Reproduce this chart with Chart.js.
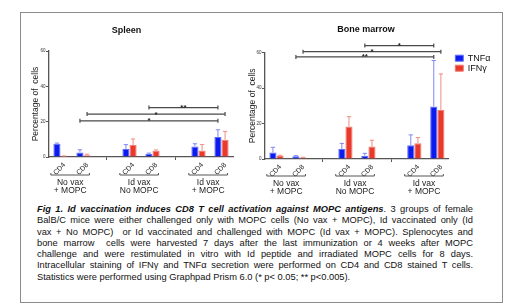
<!DOCTYPE html>
<html>
<head>
<meta charset="utf-8">
<script src="https://cdn.jsdelivr.net/npm/chart.js@4.4.1/dist/chart.umd.min.js"></script>
<style>
  body { margin: 0; background: #fff; font-family: "Liberation Sans", Arial, sans-serif; }
  #frame { position: absolute; left: 20px; top: 12px; width: 483px; height: 291px; box-sizing: border-box; border: 1.5px solid #8c8c8c; }
  canvas { position: absolute; }
  #spleen { left: 20px; top: 12px; }
  #marrow { left: 237px; top: 12px; }
  #caption { position: absolute; left: 37px; top: 204px; width: 436px; font-size: 9.3px; line-height: 11.3px; color: #111; }
  #caption div { white-space: nowrap; text-align: justify; text-align-last: justify; }
  #caption div.last { text-align-last: left; }
</style>
</head>
<body>
<div id="frame"></div>
<canvas id="spleen" width="225" height="190"></canvas>
<canvas id="marrow" width="266" height="190"></canvas>
<div id="caption">
  <div><b><i>Fig 1. Id vaccination induces CD8 T cell activation against MOPC antigens</i></b>. 3 groups of female</div>
  <div>BalB/C mice were either challenged only with MOPC cells (No vax + MOPC), Id vaccinated only (Id</div>
  <div>vax + No MOPC)&nbsp; or Id vaccinated and challenged with MOPC (Id vax + MOPC). Splenocytes and</div>
  <div>bone marrow&nbsp; cells were harvested 7 days after the last immunization or 4 weeks after MOPC</div>
  <div>challenge and were restimulated in vitro with Id peptide and irradiated MOPC cells for 8 days.</div>
  <div>Intracellular staining of IFN&gamma; and TNF&alpha; secretion were performed on CD4 and CD8 stained T cells.</div>
  <div class="last">Statistics were performed using Graphpad Prism 6.0 (* p&lt; 0.05; ** p&lt;0.005).</div>
</div>
<script>
// categories: empty slots keep the gap between the three groups
var categories = ['CD4', 'CD8', '', 'CD4', 'CD8', '', 'CD4', 'CD8'];
var groupNames = [['No vax', '+ MOPC'], ['Id vax', 'No MOPC'], ['Id vax', '+ MOPC']];
var groupStart = [0, 3, 6];
var seriesNames = ['TNF\u03b1', 'IFN\u03b3'];
var yTicks = [0, 20, 40, 60];

var spleenTnf = [7.5, 2.6, null, 4.5, 1.9, null, 6.0, 11.3];
var spleenTnfErr = [0.4, 1.5, null, 2.5, 0.3, null, 1.5, 4.1];
var spleenIfn = [0.5, 1.0, null, 6.8, 3.6, null, 3.7, 9.8];
var spleenIfnErr = [0.1, 0.6, null, 3.4, 0.4, null, 3.3, 4.7];

var marrowTnf = [3.6, 1.5, null, 5.6, 1.9, null, 7.8, 29.7];
var marrowTnfErr = [3.0, 0.4, null, 3.2, 1.3, null, 5.8, 25.9];
var marrowIfn = [2.0, 0.9, null, 18.3, 7.0, null, 8.9, 27.7];
var marrowIfnErr = [0.1, 0.1, null, 5.6, 3.6, null, 3.2, 20.3];

// significance bars: [from category, to category, series, height, label]
var spleenSig = [[4, 7, 0, 28, '**'], [1, 7, 1, 24.3, '*'], [1, 7, 0, 20.5, '*']];
var marrowSig = [[4, 7, 0, 64, '*'], [1, 7, 1, 60.6, '*'], [1, 7, 0, 57.6, '**']];

var FONT = '"Liberation Sans", Arial, sans-serif';
var AXIS = '#555555';
var barColors = ['#0c1cf0', '#e8392b'];
var edgeColors = ['#5f6cf5', '#f07a6e'];
var errColors = ['#7f89f3', '#f08c82'];

Chart.defaults.font.family = FONT;
Chart.defaults.color = '#222';

/**
 * Error bars, significance brackets and group labels, all placed from the scales.
 */
var prismMarks = {
    id: 'prismMarks',
    afterDatasetsDraw: function (chart, args, opts) {
        var ctx = chart.ctx;
        var xs = chart.scales.x;
        var ys = chart.scales.y;
        ctx.save();

        opts.errors.forEach(function (errs, d) {
            var meta = chart.getDatasetMeta(d);
            var vals = chart.data.datasets[d].data;
            ctx.strokeStyle = errColors[d];
            ctx.lineWidth = 1;
            meta.data.forEach(function (bar, i) {
                if (vals[i] === null || !errs[i]) {
                    return;
                }
                var top = ys.getPixelForValue(vals[i] + errs[i]);
                var half = bar.width * 0.3;
                ctx.beginPath();
                ctx.moveTo(bar.x, bar.y);
                ctx.lineTo(bar.x, top);
                ctx.moveTo(bar.x - half, top);
                ctx.lineTo(bar.x + half, top);
                ctx.stroke();
            });
        });

        ctx.strokeStyle = '#4a4a4a';
        ctx.fillStyle = '#222';
        ctx.lineWidth = 1.2;
        ctx.font = 'bold 8px ' + FONT;
        ctx.textAlign = 'center';
        ctx.textBaseline = 'alphabetic';
        opts.sig.forEach(function (s) {
            var meta = chart.getDatasetMeta(s[2]);
            var x1 = meta.data[s[0]].x;
            var x2 = meta.data[s[1]].x;
            var y = ys.getPixelForValue(s[3]);
            ctx.beginPath();
            ctx.moveTo(x1, y);
            ctx.lineTo(x2, y);
            ctx.moveTo(x1, y - 2);
            ctx.lineTo(x1, y + 2);
            ctx.moveTo(x2, y - 2);
            ctx.lineTo(x2, y + 2);
            ctx.stroke();
            ctx.fillText(s[4], (x1 + x2) / 2, y + 2.5);
        });

        ctx.strokeStyle = AXIS;
        ctx.lineWidth = 1;
        ctx.font = '8.5px ' + FONT;
        ctx.textBaseline = 'middle';
        groupStart.forEach(function (g, k) {
            var a = xs.getPixelForValue(g - 0.42);
            var b = xs.getPixelForValue(g + 1.26);
            var y = xs.top + opts.bracketY;
            ctx.beginPath();
            ctx.moveTo(a, y - 2);
            ctx.lineTo(a, y);
            ctx.lineTo(b, y);
            ctx.lineTo(b, y - 2);
            ctx.stroke();
            ctx.fillText(groupNames[k][0], (a + b) / 2, y + 7.5);
            ctx.fillText(groupNames[k][1], (a + b) / 2, y + 16);
        });
        ctx.restore();
    }
};

// the legend sits a little right of the plot, as in the source figure
var legendNudge = {
    id: 'legendNudge',
    afterLayout: function (chart, args, opts) {
        if (chart.legend && opts.dx) {
            chart.legend.left += opts.dx;
            chart.legend.right += opts.dx;
        }
    }
};

function makeChart(id, title, tnf, tnfErr, ifn, ifnErr, sig, lay) {
    var config = {
        type: 'bar',
        data: {
            labels: categories,
            datasets: [{
                label: seriesNames[0],
                data: tnf,
                backgroundColor: barColors[0],
                borderColor: edgeColors[0],
                borderWidth: 1
            }, {
                label: seriesNames[1],
                data: ifn,
                backgroundColor: barColors[1],
                borderColor: edgeColors[1],
                borderWidth: 1
            }]
        },
        options: {
            responsive: false,
            animation: false,
            devicePixelRatio: 1,
            categoryPercentage: 0.62,
            barPercentage: 1,
            layout: {padding: {left: 0, right: lay.padRight, top: 0, bottom: 0}},
            plugins: {
                title: {
                    display: true,
                    text: title,
                    color: '#111',
                    font: {size: 9, weight: 'bold'},
                    padding: {top: lay.titleTop, bottom: lay.titleBottom}
                },
                legend: {
                    display: lay.legend,
                    position: 'right',
                    align: 'start',
                    fullSize: false,
                    labels: {boxWidth: 8, boxHeight: 6, padding: 1, color: '#111', font: {size: 9}}
                },
                tooltip: {enabled: false},
                legendNudge: {dx: lay.legendDx},
                prismMarks: {errors: [tnfErr, ifnErr], sig: sig, bracketY: lay.bracketY}
            },
            scales: {
                x: {
                    grid: {
                        offset: false,
                        drawOnChartArea: false,
                        tickLength: 3,
                        color: function (c) {
                            return categories[c.index] === '' ? AXIS : 'rgba(0,0,0,0)';
                        }
                    },
                    border: {color: AXIS, width: 1.3},
                    ticks: {
                        autoSkip: false,
                        minRotation: 45,
                        maxRotation: 45,
                        labelOffset: 4,
                        padding: 1,
                        color: '#222',
                        font: {size: 7}
                    },
                    afterFit: function (s) {
                        s.height = lay.xHeight;
                    }
                },
                y: {
                    min: 0,
                    max: 60,
                    afterBuildTicks: function (s) {
                        s.ticks = yTicks.map(function (v) {
                            return {value: v};
                        });
                    },
                    grid: {drawOnChartArea: false, tickLength: 3, color: AXIS},
                    border: {color: AXIS, width: 1.3},
                    ticks: {padding: 0.5, color: '#333', font: {size: 4.5}},
                    title: {
                        display: true,
                        text: 'Percentage of  cells',
                        color: '#222',
                        font: {size: 8.5},
                        padding: {top: 10.9, bottom: 0}
                    },
                    afterFit: function (s) {
                        s.width = lay.yWidth;
                    }
                }
            }
        },
        plugins: [prismMarks, legendNudge]
    };
    return new Chart(document.getElementById(id), config);
}

makeChart('spleen', 'Spleen', spleenTnf, spleenTnfErr, spleenIfn, spleenIfnErr, spleenSig, {
    padRight: 12, titleTop: 13.6, titleBottom: 14.6, xHeight: 45, yWidth: 29,
    legend: false, legendDx: 0, bracketY: 18
});
// legend box is padding + item width + 10, so only a small layout pad is left on the right
makeChart('marrow', 'Bone marrow', marrowTnf, marrowTnfErr, marrowIfn, marrowIfnErr, marrowSig, {
    padRight: 8, titleTop: 12.6, titleBottom: 17.3, xHeight: 43, yWidth: 28,
    legend: true, legendDx: 5.5, bracketY: 17
});
</script>
</body>
</html>
